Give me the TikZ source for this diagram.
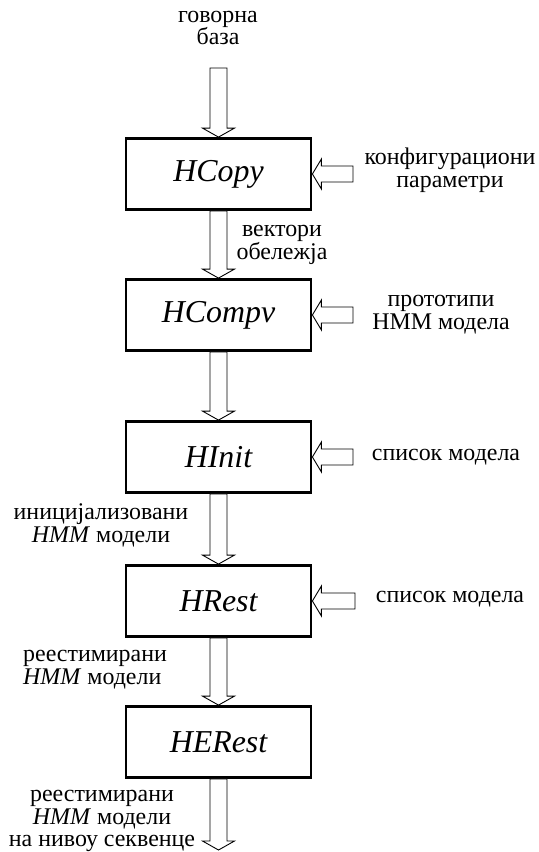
\documentclass[tikz,border=0pt]{standalone}
\usepackage{fontspec}
\setmainfont{Liberation Serif}
\usetikzlibrary{calc}
\begin{document}
\begin{tikzpicture}[x=1bp,y=-1bp,
  toolbox/.style={draw, line width=2.8bp, minimum width=185bp, minimum height=71bp,
    inner sep=0pt, font=\fontsize{32}{36}\selectfont\itshape},
  lbl/.style={inner sep=0pt, align=center, font=\fontsize{24}{23}\selectfont},
  fatarrow/.style={draw, line width=0.9bp, fill=white, line join=miter}]
\useasboundingbox (0,0) rectangle (539,852);

% program blocks
\node[toolbox] (copy)  at (218.5,174) {HCopy};
\node[toolbox] (compv) at (218.5,315) {HCompv};
\node[toolbox] (init)  at (218.5,457) {HInit};
\node[toolbox] (rest)  at (218.5,601) {HRest};
\node[toolbox] (erest) at (218.5,742) {HERest};

% free ends of the outer arrows
\coordinate (dbin)  at (218.5,68);
\coordinate (dbout) at (218.5,850);
\coordinate (cfgin) at (353,174);
\coordinate (proin) at (353,315);
\coordinate (lstA)  at (353,457);
\coordinate (lstB)  at (355,601);

% block arrow pointing down: #1 tail, #2 tip
\newcommand{\downblock}[2]{%
  \draw[fatarrow] let \p1=(#1), \p2=(#2) in
    (\x2-8.5bp,\y1) -- (\x2+8.5bp,\y1) -- (\x2+8.5bp,\y2+9bp) -- (\x2+16bp,\y2+9bp)
    -- (\x2,\y2) -- (\x2-16bp,\y2+9bp) -- (\x2-8.5bp,\y2+9bp) -- cycle;}
% block arrow pointing left: #1 tail, #2 tip
\newcommand{\leftblock}[2]{%
  \draw[fatarrow] let \p1=(#1), \p2=(#2) in
    (\x1,\y2+8bp) -- (\x2+9bp,\y2+8bp) -- (\x2+9bp,\y2+15bp) -- (\x2,\y2)
    -- (\x2+9bp,\y2-15bp) -- (\x2+9bp,\y2-8bp) -- (\x1,\y2-8bp) -- cycle;}

\downblock{dbin}{copy.north}
\downblock{copy.south}{compv.north}
\downblock{compv.south}{init.north}
\downblock{init.south}{rest.north}
\downblock{rest.south}{erest.north}
\downblock{erest.south}{dbout}

\leftblock{cfgin}{copy.east}
\leftblock{proin}{compv.east}
\leftblock{lstA}{init.east}
\leftblock{lstB}{rest.east}

% labels
\node[lbl] (tdb)  at (218,28)  {говорна\\база};
\node[lbl] (tcfg) at (450,170) {конфигурациони\\параметри};
\node[lbl] (tvec) at (282,245) {вектори\\обележја};
\node[lbl] (tpro) at (441,315) {прототипи\\HMM модела};
\node[lbl] (tlA)  at (446,457) {список модела};
\node[lbl] (tlB)  at (450,599) {список модела};
\node[lbl] (tini) at (101,525) {иницијализовани\\\textit{HMM} модели};
\node[lbl, align=left, anchor=west] (tre) at (23,670) {реестимирани\\\textit{HMM} модели};
\node[lbl] (tout) at (102,821) {реестимирани\\\textit{HMM} модели\\на нивоу секвенце};
\end{tikzpicture}
\end{document}
